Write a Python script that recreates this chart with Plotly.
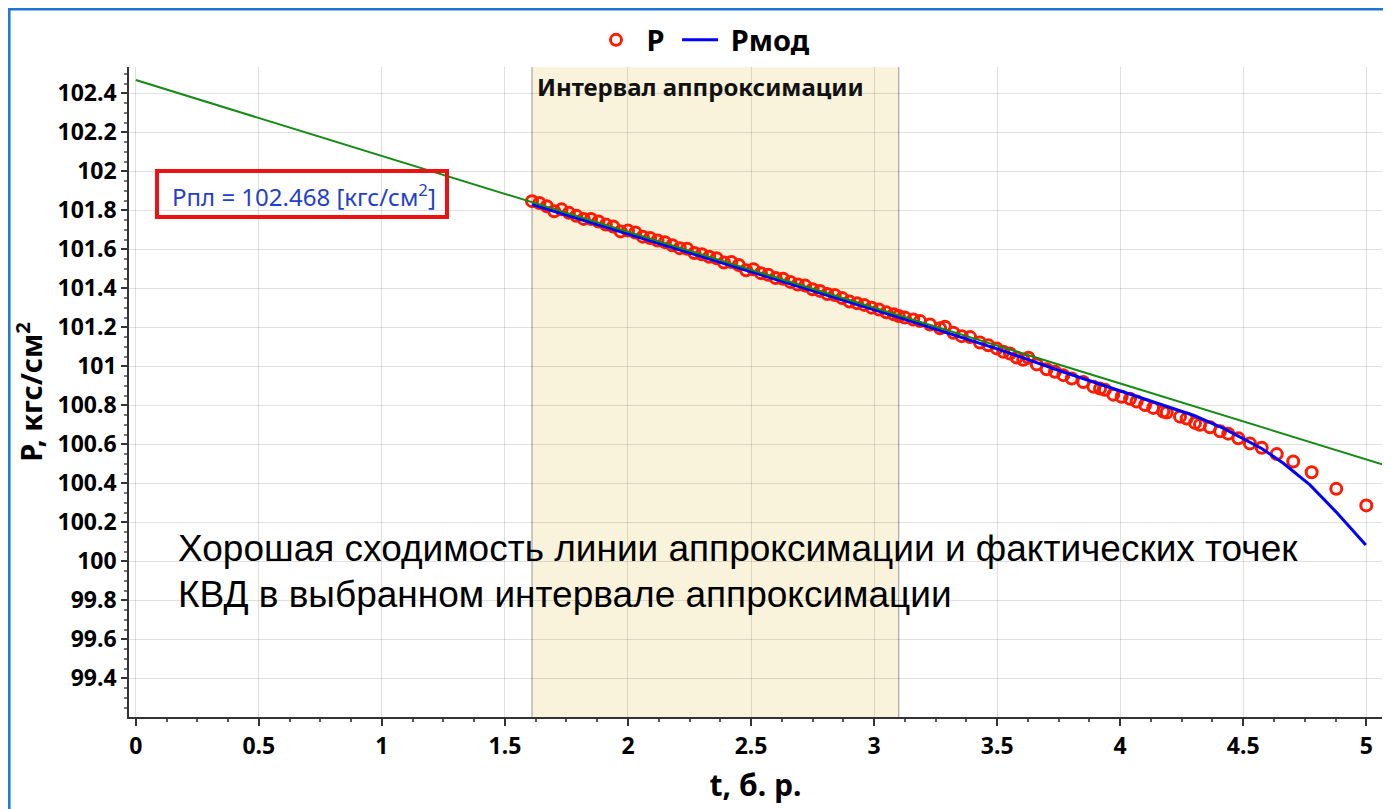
import plotly.graph_objects as go

# ---- data ----
t_fact = [1.61, 1.64, 1.67, 1.70, 1.73, 1.76, 1.79, 1.82, 1.85, 1.88,
          1.91, 1.94, 1.97, 2.00, 2.03, 2.06, 2.09, 2.12, 2.15, 2.18,
          2.21, 2.24, 2.27, 2.30, 2.33, 2.36, 2.39, 2.42, 2.45, 2.48,
          2.51, 2.54, 2.57, 2.60, 2.63, 2.66, 2.69, 2.72, 2.75, 2.78,
          2.81, 2.84, 2.87, 2.90, 2.93, 2.96, 2.99, 3.02, 3.05, 3.08,
          3.10, 3.125, 3.159, 3.187, 3.227, 3.268, 3.288, 3.322, 3.356, 3.390,
          3.430, 3.464, 3.498, 3.525, 3.552, 3.579, 3.606, 3.627, 3.661, 3.701,
          3.735, 3.769, 3.803, 3.850, 3.891, 3.918, 3.938, 3.972, 4.006, 4.040,
          4.067, 4.101, 4.134, 4.175, 4.189, 4.243, 4.270, 4.304, 4.324, 4.365,
          4.406, 4.439, 4.480, 4.527, 4.575, 4.636, 4.703, 4.778, 4.878, 5.000]
p_fact = [101.847, 101.838, 101.821, 101.795, 101.805, 101.787, 101.772, 101.756, 101.756, 101.743,
          101.727, 101.717, 101.692, 101.696, 101.686, 101.665, 101.658, 101.645, 101.637, 101.621,
          101.606, 101.603, 101.581, 101.575, 101.562, 101.554, 101.532, 101.535, 101.520, 101.493,
          101.498, 101.478, 101.470, 101.453, 101.449, 101.433, 101.420, 101.414, 101.395, 101.387,
          101.371, 101.366, 101.350, 101.332, 101.324, 101.315, 101.301, 101.291, 101.277, 101.267,
          101.258, 101.250, 101.240, 101.232, 101.215, 101.195, 101.203, 101.172, 101.155, 101.150,
          101.122, 101.108, 101.092, 101.075, 101.066, 101.045, 101.034, 101.044, 101.010, 100.985,
          100.972, 100.955, 100.938, 100.920, 100.896, 100.886, 100.880, 100.855, 100.844, 100.834,
          100.820, 100.802, 100.787, 100.768, 100.763, 100.742, 100.732, 100.710, 100.700, 100.688,
          100.667, 100.655, 100.631, 100.605, 100.583, 100.550, 100.512, 100.457, 100.372, 100.287]

t_mod = [1.61, 2.00, 2.50, 3.10, 3.50, 3.76, 3.96, 4.16, 4.30, 4.42,
         4.50, 4.575, 4.663, 4.771, 4.877, 4.998]
p_mod = [101.830, 101.680, 101.485, 101.252, 101.090, 100.975, 100.890, 100.808, 100.748, 100.682,
         100.631, 100.579, 100.503, 100.392, 100.254, 100.084]

t_approx = [0.0, 5.064]
p_approx = [102.468, 100.498]

interval = [1.61, 3.10]
p_pl = 102.468

x_range = [-0.0276, 5.0638]
y_range = [99.202, 102.535]

series_names = ["P", "Pмод"]

FONT = "Noto Sans"
NBSP = "\u00a0"


def px(xr):  # reference-picture x pixel -> paper x
    return (xr - 129) / 1253


def py(yr):  # reference-picture y pixel -> paper y
    return (717 - yr) / 650


fig = go.Figure()

fig.add_trace(go.Scatter(
    x=t_fact, y=p_fact, mode="markers", name=NBSP + series_names[0] + NBSP,
    marker=dict(symbol="circle-open", size=11, color="#ff1a00",
                line=dict(width=3, color="#ff1a00"))))

fig.add_trace(go.Scatter(
    x=t_mod, y=p_mod, mode="lines", name=NBSP + series_names[1],
    line=dict(color="#0000ff", width=3)))

fig.add_trace(go.Scatter(
    x=t_approx, y=p_approx, mode="lines",
    line=dict(color="#148a14", width=2), showlegend=False, hoverinfo="skip"))

# approximation interval
fig.add_shape(type="rect", xref="x", yref="y domain", x0=interval[0], x1=interval[1],
              y0=0, y1=1, fillcolor="#faf3dc", line=dict(width=0), layer="below")
for xv in interval:
    fig.add_shape(type="line", xref="x", yref="y domain", x0=xv, x1=xv, y0=0, y1=1,
                  line=dict(color="#a8a8a0", width=1.2), layer="below")

fig.add_annotation(x=interval[0], y=1, xref="x", yref="y domain", xanchor="left", yanchor="top",
                   xshift=3, yshift=-1, showarrow=False,
                   text="<b>Интервал аппроксимации</b>",
                   font=dict(family=FONT, size=24, color="#111111"))

# Ppl box
fig.add_shape(type="rect", xref="paper", yref="paper",
              x0=px(157), x1=px(447), y0=py(217), y1=py(171),
              line=dict(color="#ee1111", width=4), fillcolor="rgba(0,0,0,0)")
fig.add_annotation(x=px(304), y=py(195), xref="paper", yref="paper",
                   xanchor="center", yanchor="middle", showarrow=False,
                   text="Рпл = %.3f [кгс/см<sup>2</sup>]" % p_pl,
                   font=dict(family=FONT, size=24, color="#1f3fcf"))

# comment text
fig.add_annotation(x=px(176), y=py(548), xref="paper", yref="paper",
                   xanchor="left", yanchor="middle", showarrow=False,
                   text="Хорошая сходимость линии аппроксимации и фактических точек",
                   font=dict(family="Liberation Sans", size=37, color="#000000"))
fig.add_annotation(x=px(176), y=py(594), xref="paper", yref="paper",
                   xanchor="left", yanchor="middle", showarrow=False,
                   text="КВД в выбранном интервале аппроксимации",
                   font=dict(family="Liberation Sans", size=37, color="#000000"))

# outer blue frame
fig.add_shape(type="rect", xref="paper", yref="paper",
              x0=px(9.3), x1=px(1420), y0=py(840), y1=py(9.3),
              line=dict(color="#1a78d2", width=2.5), fillcolor="rgba(0,0,0,0)")

axis_font = dict(family=FONT, size=23, color="#000000", weight="bold")
fig.update_xaxes(range=x_range, dtick=0.5, tick0=0, showgrid=True,
                 gridcolor="rgba(0,0,0,0.12)", gridwidth=1, zeroline=False,
                 showline=True, linecolor="#333333", linewidth=2,
                 ticks="outside", ticklen=7, tickcolor="#333333", tickwidth=1.5,
                 minor=dict(dtick=0.125, ticks="outside", ticklen=3, tickcolor="#555555", showgrid=False),
                 tickfont=axis_font, automargin=False,
                 title=dict(text="t, б. р.", font=dict(family=FONT, size=30, color="#000000", weight="bold"),
                            standoff=15))
fig.update_yaxes(range=y_range, dtick=0.2, tick0=99.4, showgrid=True,
                 gridcolor="rgba(0,0,0,0.12)", gridwidth=1, zeroline=False,
                 showline=True, linecolor="#333333", linewidth=1.5,
                 ticks="outside", ticklen=6, tickcolor="#333333", tickwidth=1.5,
                 minor=dict(dtick=0.05, ticks="outside", ticklen=3, tickcolor="#777777", showgrid=False),
                 tickfont=axis_font, automargin=False,
                 title=dict(text="P, кгс/см<sup>2</sup>", font=dict(family=FONT, size=29, color="#000000", weight="bold"),
                            standoff=6))

# the page adds an 8 px body margin, so the figure is 8 px smaller than the window
fig.update_layout(
    width=1383, height=801,
    margin=dict(l=121, r=9, t=59, b=92, autoexpand=False),
    paper_bgcolor="#ffffff", plot_bgcolor="#ffffff",
    legend=dict(orientation="h", x=px(704), xanchor="center", y=py(40), yanchor="middle",
                font=dict(family=FONT, size=29, color="#000000", weight="bold"),
                bgcolor="rgba(0,0,0,0)", itemwidth=36),
    showlegend=True,
)

fig.write_html("out.html")
